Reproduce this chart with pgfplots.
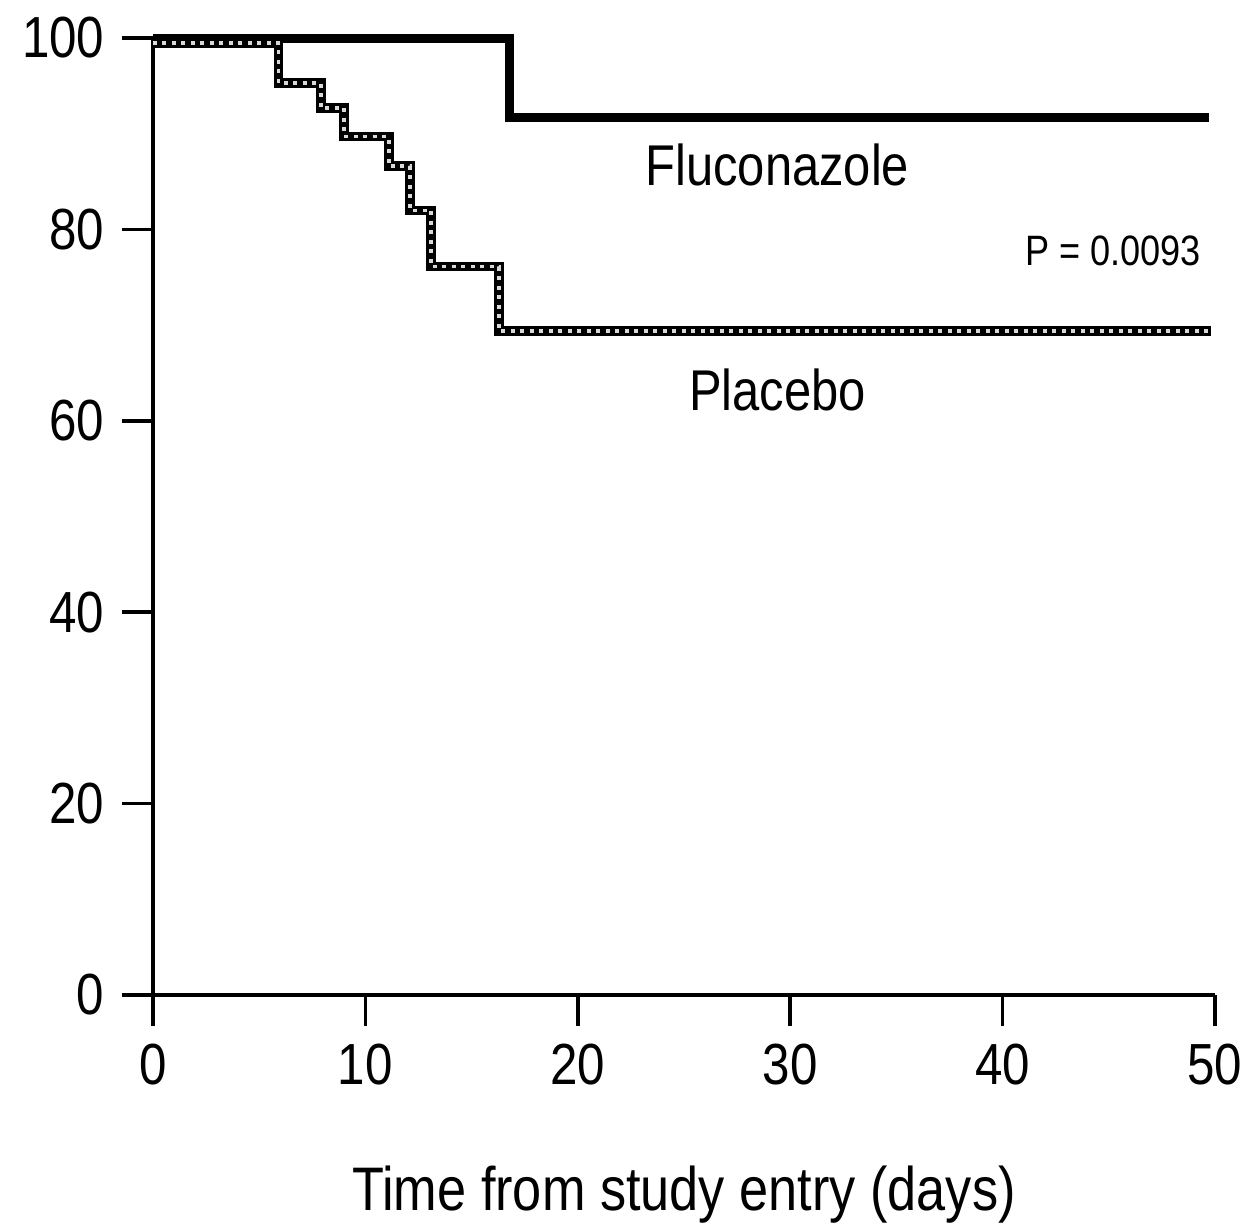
\documentclass[border=0pt]{standalone}
\usepackage{fontspec}
\setmainfont{Liberation Sans}[FakeStretch=0.85]
\usepackage{pgfplots}
\pgfplotsset{compat=1.18}

\begin{document}
\begin{tikzpicture}
\useasboundingbox (-30.6pt,-47.4pt) rectangle (219.2pt,199pt);
\begin{axis}[
  scale only axis,width=212.4pt,height=191.4pt,
  at={(0,0)},anchor=south west,
  xmin=0,xmax=50,ymin=0,ymax=100,
  axis lines=left,axis line style={-,line width=0.8pt},
  xtick={0,10,...,50},ytick={0,20,...,100},
  tick align=outside,major tick length=6.2pt,
  tick style={line width=0.7pt,black},
  /pgf/number format/assume math mode=true,
  tick label style={font=\fontsize{11.6}{13}\selectfont},
  xlabel={Time from study entry (days)},
  xlabel style={font=\fontsize{12.3}{15}\selectfont,at={(axis description cs:0.5,-0.209)},anchor=center},
  clip=false
]
% Fluconazole
\addplot[const plot,black,line width=1.8pt] coordinates {
  (0,100) (16.8,91.7) (49.7,91.7)
};
% Placebo (hatched line)
\addplot[const plot,black,line width=1.9pt] coordinates {
  (0,99.5) (5.9,95.3) (7.9,92.7) (9.0,89.7) (11.1,86.6) (12.1,82.0) (13.1,76.1) (16.3,69.4) (49.8,69.4)
};
\addplot[const plot,white!85!black,line width=0.7pt,dash pattern=on 0.8pt off 1.1pt] coordinates {
  (0,99.5) (5.9,95.3) (7.9,92.7) (9.0,89.7) (11.1,86.6) (12.1,82.0) (13.1,76.1) (16.3,69.4) (49.8,69.4)
};
\node[font=\fontsize{11.5}{14}\selectfont] at (axis cs:29.4,86.7) {Fluconazole};
\node[font=\fontsize{11.5}{14}\selectfont] at (axis cs:29.4,63.2) {Placebo};
\node[font=\fontsize{8.5}{10}\selectfont] at (axis cs:45.2,77.8) {P = 0.0093};
\end{axis}
\end{tikzpicture}
\end{document}
